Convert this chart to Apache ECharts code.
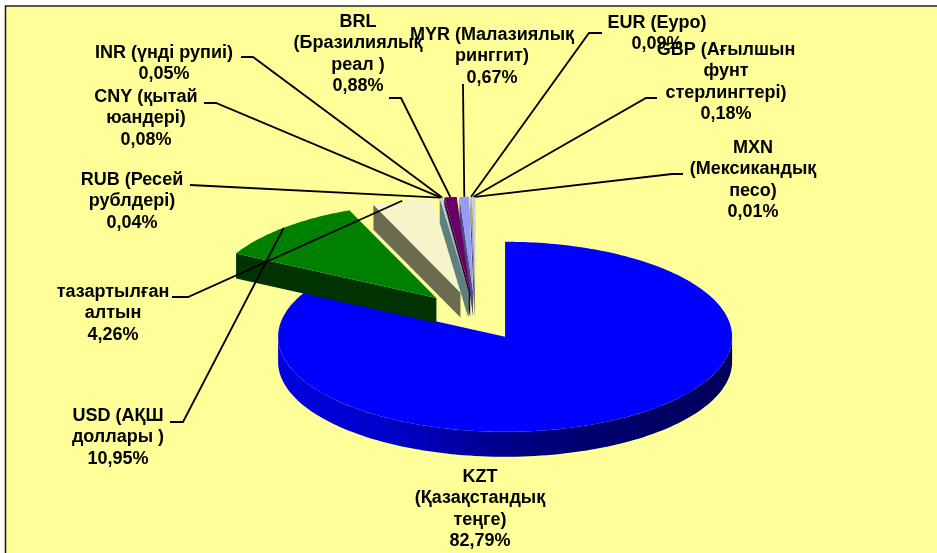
<!DOCTYPE html>
<html>
<head>
<meta charset="utf-8">
<style>
    html, body { margin: 0; padding: 0; background: #fff; }
    #chart { width: 937px; height: 553px; }
</style>
<script src="https://cdn.jsdelivr.net/npm/echarts@6/dist/echarts.min.js"></script>
</head>
<body>
<div id="chart"></div>
<script>
// currency shares, %
const labels = [
    'KZT\n(Қазақстандық\nтеңге)',
    'USD (АҚШ\nдоллары )',
    'тазартылған\nалтын',
    'RUB (Ресей\nрублдері)',
    'CNY (қытай\nюандері)',
    'INR (үнді рупиі)',
    'BRL\n(Бразилиялық\nреал )',
    'MYR (Малазиялық\nринггит)',
    'EUR (Еуро)',
    'GBP (Ағылшын\nфунт\nстерлингтері)',
    'MXN\n(Мексикандық\nпесо)'
]
const values = [82.79, 10.95, 4.26, 0.04, 0.08, 0.05, 0.88, 0.67, 0.09, 0.18, 0.01]
const valueText = ['82,79%', '10,95%', '4,26%', '0,04%', '0,08%', '0,05%', '0,88%', '0,67%', '0,09%', '0,18%', '0,01%']

// styling, same order as values
const topColors = ['#0000ff', '#008000', '#f6f4c8', '#ffffcc', '#ccffff', '#a0a0c0', '#660066', '#9999ff', '#a0a0e0', '#c4c4ec', '#8080a0']
const sideColors = ['#000058', '#003300', '#6b6b52', '#5f7f80', '#5f7f80', '#5f7f80', '#330033', '#4d4d80', '#505070', '#626276', '#404050']
// back slices first, the little ones overlap from the right
const drawOrder = [0, 1, 2, 10, 9, 8, 7, 6, 5, 4, 3]

// label block centre x / first line y, leader start and elbow
const labelX = [480, 118, 113, 132, 146, 164, 358, 492, 657, 726, 753]
const labelY = [477, 416, 292, 180, 97, 53, 22, 35, 23, 50, 148]
const leaderStart = [null, [170, 422], [172, 297], null, [204, 103], [241, 57], [389, 98], [462, 85], [602, 33], [657, 98], [683, 174]]
const leaderElbow = [null, [183, 422], [188, 297], [190, 185], [216, 103], [253, 57], [401, 98], [463, 85], [589, 33], [646, 98], [672, 174]]

// pie projection
const cx = 475.3
const cy = 316
const rx = 227
const ry = 95
const depth = 25
const explode = 0.255
const lineH = 21.5
const font = 'bold 18px "Liberation Sans", Arial, sans-serif'

const total = values.reduce((a, b) => a + b, 0)
const starts = []
values.reduce((acc, v, i) => {
    starts[i] = acc
    return acc + v / total * Math.PI * 2
}, 0)

function onEllipse(x, y, ang, k) {
    return [x + Math.sin(ang) * rx * k, y - Math.cos(ang) * ry * k]
}

function sliceGeom(i) {
    const a0 = starts[i]
    const a1 = a0 + values[i] / total * Math.PI * 2
    const mid = (a0 + a1) / 2
    const apex = onEllipse(cx, cy, mid, explode)
    return {a0, a1, mid, apex}
}

function renderSlice(params, api) {
    const i = api.value(0)
    const g = sliceGeom(i)
    const arc = []
    const n = Math.max(2, Math.ceil((g.a1 - g.a0) * 60))
    for (let k = 0; k <= n; k++) {
        arc.push(onEllipse(g.apex[0], g.apex[1], g.a0 + (g.a1 - g.a0) * k / n, 1))
    }
    const children = []
    // front wall, only the part of the rim that faces the viewer
    const from = Math.max(g.a0, Math.PI / 2)
    const to = Math.min(g.a1, Math.PI * 1.5)
    if (to > from) {
        const wall = []
        const m = 120
        for (let k = 0; k <= m; k++) {
            wall.push(onEllipse(g.apex[0], g.apex[1], from + (to - from) * k / m, 1))
        }
        for (let k = m; k >= 0; k--) {
            const p = wall[k]
            wall.push([p[0], p[1] + depth])
        }
        children.push({
            type: 'polygon',
            shape: {points: wall},
            style: {
                fill: new echarts.graphic.LinearGradient(0, 0, 1, 0, [
                    {offset: 0, color: '#0000e0'},
                    {offset: 0.25, color: '#0000c8'},
                    {offset: 0.45, color: '#000096'},
                    {offset: 0.6, color: '#000078'},
                    {offset: 1, color: sideColors[i]}
                ])
            }
        })
    }
    // radial wall at the start of slices on the left half
    if (g.a0 > Math.PI) {
        const p = arc[0]
        children.push({
            type: 'polygon',
            shape: {points: [g.apex, p, [p[0], p[1] + depth], [g.apex[0], g.apex[1] + depth]]},
            style: {fill: sideColors[i]}
        })
    }
    children.push({
        type: 'polygon',
        shape: {points: [g.apex].concat(arc)},
        style: {fill: topColors[i]}
    })
    return {type: 'group', children}
}

function renderLabel(params, api) {
    const i = api.value(0)
    const g = sliceGeom(i)
    const children = []
    if (leaderElbow[i]) {
        const end = onEllipse(g.apex[0], g.apex[1], g.mid, 1)
        const pts = leaderStart[i] ? [leaderStart[i], leaderElbow[i], end] : [leaderElbow[i], end]
        children.push({
            type: 'polyline',
            shape: {points: pts},
            style: {stroke: '#000', lineWidth: 1.8, fill: null}
        })
    }
    children.push({
        type: 'text',
        x: labelX[i],
        y: labelY[i] - lineH / 2,
        style: {
            text: labels[i] + '\n' + valueText[i],
            font: font,
            fill: '#000',
            align: 'center',
            verticalAlign: 'top',
            lineHeight: lineH
        }
    })
    return {type: 'group', children}
}

const chart = echarts.init(document.getElementById('chart'), null, {renderer: 'canvas'})
chart.setOption({
    animation: false,
    backgroundColor: '#fff',
    graphic: [{
        type: 'rect',
        silent: true,
        z: -1,
        shape: {x: 5.5, y: 6, width: 940, height: 560},
        style: {fill: '#ffff99', stroke: '#222', lineWidth: 1.6}
    }],
    series: [
        {
            type: 'custom',
            coordinateSystem: 'none',
            silent: true,
            data: drawOrder.map(i => [i]),
            renderItem: renderSlice
        },
        {
            type: 'custom',
            coordinateSystem: 'none',
            silent: true,
            z: 3,
            data: values.map((v, i) => [i, v]),
            renderItem: renderLabel
        }
    ]
})
window.addEventListener('resize', () => chart.resize())
</script>
</body>
</html>
